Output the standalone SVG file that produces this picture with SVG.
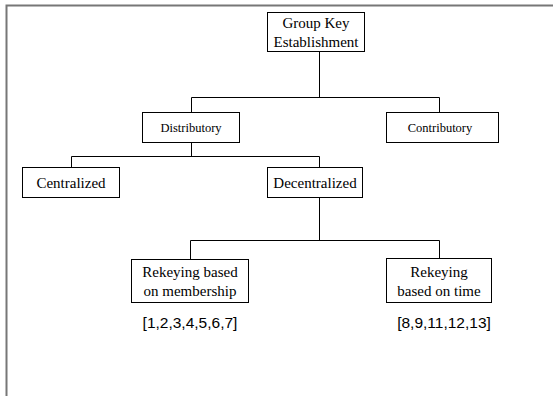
<svg xmlns="http://www.w3.org/2000/svg" width="553" height="396" viewBox="0 0 553 396">
<style>
.box{fill:#fff;stroke:#000;stroke-width:1}
.lbl{font-family:"Liberation Serif","Times New Roman",Times,serif;font-size:15px;fill:#000;text-anchor:middle}
.sm{font-size:12.5px}
.ref{font-family:"Liberation Sans",Arial,sans-serif;font-size:15.5px;fill:#000;text-anchor:middle}
.con{fill:none;stroke:#000;stroke-width:1}
.frame{fill:none;stroke:#777;stroke-width:2}
</style>
<rect width="553" height="396" fill="#fff"/>
<path class="frame" d="M6.5,396 V5.5 H553"/>
<g id="connectors">
<path class="con" d="M319.5,52 V97.5 M191.5,112 V97.5 H439.5 V112"/>
<path class="con" d="M191.5,143 V156.5 M71.5,167 V156.5 H319.5 V167"/>
<path class="con" d="M319.5,198 V240.5 M190.5,259 V240.5 H439.5 V258"/>
</g>
<g id="group-key">
<rect class="box" x="267.5" y="12.5" width="97" height="39"/>
<text class="lbl" x="316" y="28">Group Key</text>
<text class="lbl" x="316" y="47">Establishment</text>
</g>
<g id="distributory">
<rect class="box" x="142.5" y="112.5" width="97" height="30"/>
<text class="lbl sm" x="191" y="132">Distributory</text>
</g>
<g id="contributory">
<rect class="box" x="386.5" y="112.5" width="112" height="30"/>
<text class="lbl sm" x="440" y="132">Contributory</text>
</g>
<g id="centralized">
<rect class="box" x="22.5" y="167.5" width="97" height="30"/>
<text class="lbl" x="71" y="188">Centralized</text>
</g>
<g id="decentralized">
<rect class="box" x="267.5" y="167.5" width="95" height="30"/>
<text class="lbl" x="315" y="188">Decentralized</text>
</g>
<g id="rekey-membership">
<rect class="box" x="131.5" y="259.5" width="117" height="43"/>
<text class="lbl" x="190" y="277">Rekeying based</text>
<text class="lbl" x="190" y="296">on membership</text>
</g>
<g id="rekey-time">
<rect class="box" x="386.5" y="258.5" width="105" height="44"/>
<text class="lbl" x="439" y="277">Rekeying</text>
<text class="lbl" x="439" y="296">based on time</text>
</g>
<g id="refs">
<text class="ref" x="190" y="328">[1,2,3,4,5,6,7]</text>
<text class="ref" x="444" y="328">[8,9,11,12,13]</text>
</g>
</svg>
